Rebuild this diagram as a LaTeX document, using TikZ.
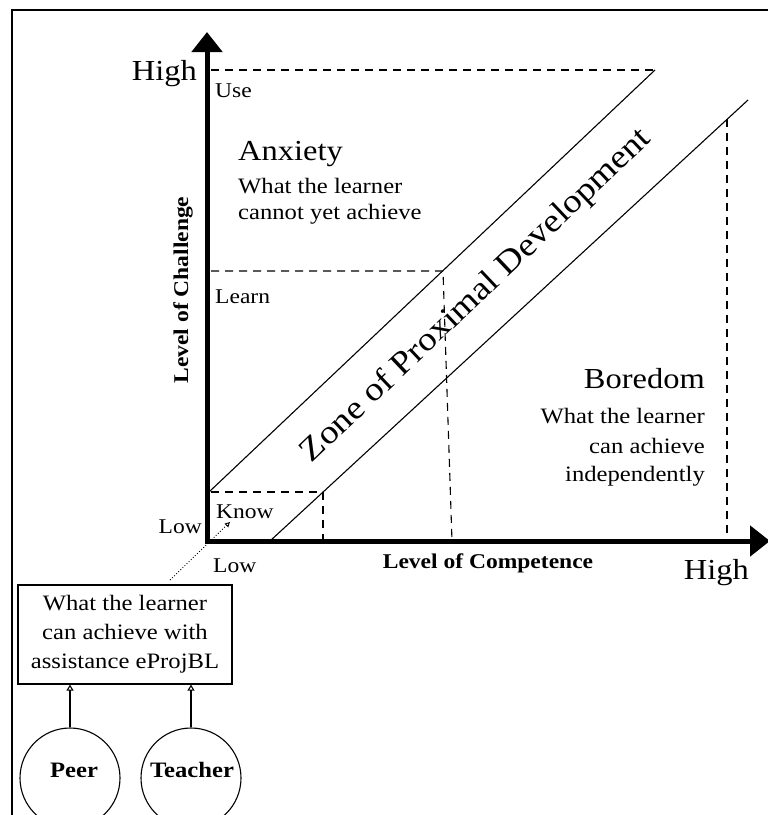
\documentclass[tikz,border=0pt]{standalone}
\usepackage{fontspec}
\setmainfont{Liberation Serif}[FakeStretch=1.12]
\usetikzlibrary{arrows.meta}

\begin{document}
\begin{tikzpicture}[x=1pt,y=-1pt,
  axis/.style={line width=5pt, -{Triangle[length=20pt,width=30pt]}},
  guide/.style={dash pattern=on 8pt off 6pt, line width=1.1pt},
  zpdline/.style={line width=1.1pt},
  small/.style={inner sep=0pt, font=\fontsize{21}{25}\selectfont},
  big/.style={inner sep=0pt, font=\fontsize{29}{34}\selectfont},
  desc/.style={inner sep=0pt, font=\fontsize{22}{26}\selectfont},
  axistitle/.style={inner sep=0pt, font=\fontsize{21}{25}\selectfont\bfseries},
  helper/.style={circle, draw, line width=1.1pt, minimum size=100pt, inner sep=0pt},
  helptext/.style={inner sep=0pt, font=\fontsize{22}{26}\selectfont\bfseries},
  upto/.style={line width=1.1pt, -{Triangle[open,length=6pt,width=7pt]}}
]
\useasboundingbox (0,0) rectangle (768,815);

% frame
\draw[line width=2pt] (12,815) -- (12,10) -- (768,10);

% key points
\coordinate (O) at (207,541);
\coordinate (ytip) at (207,32);
\coordinate (xtip) at (770,541);
\coordinate (u0) at (209,492);
\coordinate (u1) at (655,70);
\coordinate (l0) at (270,541);
\coordinate (l1) at (748,100);
\coordinate (useL) at (211,70);
\coordinate (learnL) at (211,271);
\coordinate (learnC) at (443,271);
\coordinate (learnB) at (452,541);
\coordinate (knowL) at (211,492);
\coordinate (knowC) at (323,492);
\coordinate (knowB) at (323,541);
\coordinate (hiC) at (727,119);
\coordinate (hiB) at (727,541);
\coordinate (d0) at (170,580);
\coordinate (d1) at (230,522);

% zone of proximal development band
\draw[zpdline] (u0) -- (u1);
\draw[zpdline] (l0) -- (l1);

% dashed guides
\draw[guide] (useL) -- (u1);
\draw[guide] (learnL) -- (learnC) -- (learnB);
\draw[guide] (knowL) -- (knowC) -- (knowB);
\draw[guide] (hiC) -- (hiB);

% axes
\draw[axis] (207,543.5) -- (ytip);
\draw[axis] (204.5,541) -- (xtip);

% dotted pointer to the origin
\draw[line width=0.9pt, dotted, -{Triangle[open,length=5pt,width=5pt]}] (d0) -- (d1);

% axis labels
\node[big, anchor=base east] (yhigh) at (197,80) {High};
\node[small, anchor=base west] (use) at (215,97) {Use};
\node[small, anchor=base west] (learn) at (215,303) {Learn};
\node[small, anchor=base west] (know) at (216,518) {Know};
\node[small, anchor=base east] (ylow) at (202,533) {Low};
\node[small, anchor=base west] (xlow) at (213,572) {Low};
\node[big, anchor=base east] (xhigh) at (749,579) {High};
\node[axistitle, anchor=base] (xtitle) at (488,568) {Level of Competence};
\node[axistitle, rotate=90] (ytitle) at (183,290) {Level of Challenge};

% regions
\node[big, anchor=base west] (anx) at (238,160) {Anxiety};
\node[desc, anchor=base west] (anx1) at (238,193) {What the learner};
\node[desc, anchor=base west] (anx2) at (238,219) {cannot yet achieve};

\node[big, anchor=base east] (bor) at (705,388) {Boredom};
\node[desc, anchor=base east] (bor1) at (705,423) {What the learner};
\node[desc, anchor=base east] (bor2) at (705,453) {can achieve};
\node[desc, anchor=base east] (bor3) at (705,481) {independently};

\node[rotate=43.5, anchor=base, inner sep=0pt, font=\fontsize{33}{38}\selectfont] (zpd) at (482,302) {Zone of Proximal Development};

% assistance box and helpers
\node[draw, line width=1.2pt, minimum width=214pt, minimum height=99pt, inner sep=0pt,
      align=center, font=\fontsize{22}{29}\selectfont] (box) at (125,634.5)
      {What the learner\\can achieve with\\assistance eProjBL};

\node[helper] (peer) at (70,778) {};
\node[helper] (teacher) at (191,778) {};
\node[helptext, anchor=base] (peerT) at (74,777) {Peer};
\node[helptext, anchor=base] (teacherT) at (192,777) {Teacher};

\draw[upto] (peer.north) -- (peer.north |- box.south);
\draw[upto] (teacher.north) -- (teacher.north |- box.south);
\end{tikzpicture}
\end{document}
